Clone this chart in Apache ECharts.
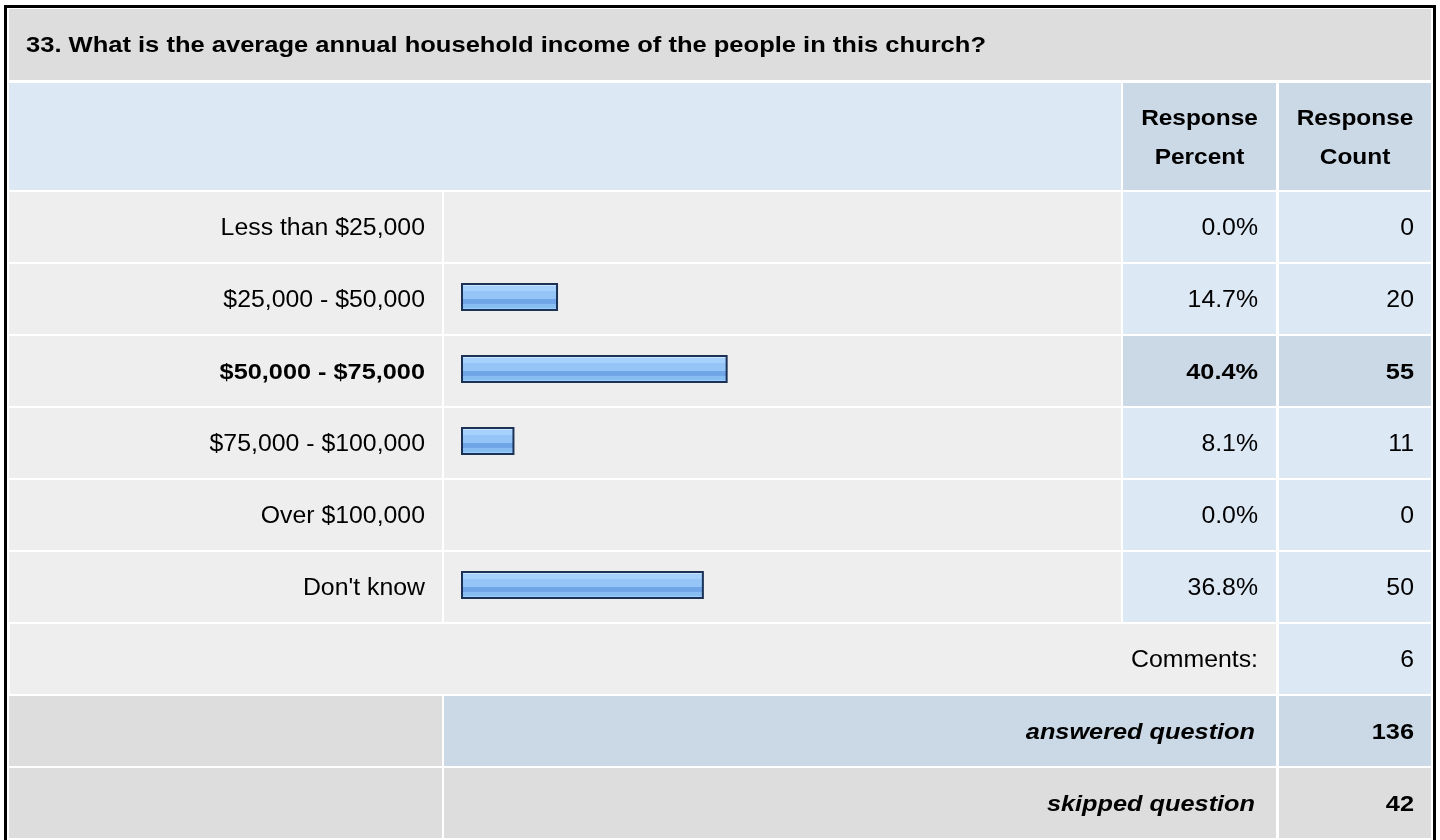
<!DOCTYPE html>
<html>
<head>
<meta charset="utf-8">
<script src="https://cdn.jsdelivr.net/npm/echarts@6/dist/echarts.min.js"></script>
<style>
  html, body { margin: 0; padding: 0; background: #ffffff; }
  #chart { width: 1440px; height: 840px; }
</style>
</head>
<body>
<div id="chart"></div>
<script>
// Survey question results
const question = '33. What is the average annual household income of the people in this church?';
const categories = ['Less than $25,000', '$25,000 - $50,000', '$50,000 - $75,000', '$75,000 - $100,000', 'Over $100,000', "Don't know"];
const percents = [0.0, 14.7, 40.4, 8.1, 0.0, 36.8];
const counts = [0, 20, 55, 11, 0, 50];
const headerLabels = ['Response\nPercent', 'Response\nCount'];
const commentsLabel = 'Comments:';
const commentsCount = 6;
const answeredLabel = 'answered question';
const answeredCount = 136;
const skippedLabel = 'skipped question';
const skippedCount = 42;

// Table layout
const FONT = '"Liberation Sans", Arial, Helvetica, sans-serif';
const COL = {
  label: [9, 442],
  bar: [444, 1121],
  pct: [1123, 1276],
  cnt: [1279, 1431]
};
const ROW_TOP = 192, ROW_PITCH = 72, ROW_H = 70;
const TEXT_DY = 2;

const C_TITLE = '#dddddd';
const C_HEAD = '#dde8f5';
const C_HEAD_DARK = '#cbd8e6';
const C_ROW = '#eeeeee';
const C_VAL = '#dde8f5';
const C_GREY = '#dddddd';

const maxIdx = counts.indexOf(Math.max(...counts));
const elements = [];

function cell(x0, x1, y, h, fill) {
  elements.push({ type: 'rect', z: 0, silent: true,
    shape: { x: x0, y: y, width: x1 - x0, height: h },
    style: { fill: fill } });
}
function text(x, y, str, o) {
  o = o || {};
  const bold = !!o.bold;
  elements.push({ type: 'text', z: 10, silent: true,
    x: x, y: y + TEXT_DY, scaleX: o.scaleX || (bold ? 1.15 : 1.08),
    style: {
      text: str, fill: '#000000',
      fontFamily: FONT, fontSize: o.size || (bold ? 22 : 23),
      fontWeight: bold ? 'bold' : 'normal',
      fontStyle: o.italic ? 'italic' : 'normal',
      align: o.align || 'right', textAlign: o.align || 'right',
      verticalAlign: 'middle', textVerticalAlign: 'middle',
      lineHeight: o.lineHeight || 26
    } });
}

// Outer frame
elements.push({ type: 'rect', z: 1, silent: true,
  shape: { x: 5.5, y: 6.5, width: 1429, height: 900 },
  style: { fill: null, stroke: '#000000', lineWidth: 3 } });

// Title row
cell(9, 1431, 9, 71, C_TITLE);
text(26, 44, question, { bold: true, align: 'left', scaleX: 1.16 });

// Header row
cell(9, 1121, 83, 107, C_HEAD);
cell(COL.pct[0], COL.pct[1], 83, 107, C_HEAD_DARK);
cell(COL.cnt[0], COL.cnt[1], 83, 107, C_HEAD_DARK);
text((COL.pct[0] + COL.pct[1]) / 2, 136, headerLabels[0], { bold: true, align: 'center', lineHeight: 39, scaleX: 1.11 });
text((COL.cnt[0] + COL.cnt[1]) / 2, 136, headerLabels[1], { bold: true, align: 'center', lineHeight: 39, scaleX: 1.11 });

// Answer rows
categories.forEach(function (name, i) {
  const y = ROW_TOP + i * ROW_PITCH;
  const cy = y + ROW_H / 2;
  const hi = i === maxIdx;
  cell(COL.label[0], COL.label[1], y, ROW_H, C_ROW);
  cell(COL.bar[0], COL.bar[1], y, ROW_H, C_ROW);
  cell(COL.pct[0], COL.pct[1], y, ROW_H, hi ? C_HEAD_DARK : C_VAL);
  cell(COL.cnt[0], COL.cnt[1], y, ROW_H, hi ? C_HEAD_DARK : C_VAL);
  text(425, cy, name, { bold: hi });
  text(1258, cy, percents[i].toFixed(1) + '%', { bold: hi });
  text(1414, cy, String(counts[i]), { bold: hi });
});

// Comments row
let y = ROW_TOP + categories.length * ROW_PITCH;
cell(10, COL.pct[1], y, ROW_H, C_ROW);
cell(COL.cnt[0], COL.cnt[1], y, ROW_H, C_VAL);
text(1258, y + ROW_H / 2, commentsLabel);
text(1414, y + ROW_H / 2, String(commentsCount));

// Answered / skipped rows
y += ROW_PITCH;
cell(COL.label[0], COL.label[1], y, ROW_H, C_GREY);
cell(COL.bar[0], COL.pct[1], y, ROW_H, C_HEAD_DARK);
cell(COL.cnt[0], COL.cnt[1], y, ROW_H, C_HEAD_DARK);
text(1255, y + ROW_H / 2, answeredLabel, { bold: true, italic: true });
text(1414, y + ROW_H / 2, String(answeredCount), { bold: true });

y += ROW_PITCH;
cell(COL.label[0], COL.label[1], y, ROW_H, C_GREY);
cell(COL.bar[0], COL.pct[1], y, ROW_H, C_GREY);
cell(COL.cnt[0], COL.cnt[1], y, ROW_H, C_GREY);
text(1255, y + ROW_H / 2, skippedLabel, { bold: true, italic: true });
text(1414, y + ROW_H / 2, String(skippedCount), { bold: true });

// Glossy striped bar fill
const barFill = new echarts.graphic.LinearGradient(0, 0, 0, 1, [
  { offset: 0.00, color: '#c8e4ff' },
  { offset: 0.10, color: '#c8e4ff' },
  { offset: 0.10, color: '#a6d1fc' },
  { offset: 0.28, color: '#a6d1fc' },
  { offset: 0.28, color: '#95c5f7' },
  { offset: 0.56, color: '#95c5f7' },
  { offset: 0.56, color: '#70a6e7' },
  { offset: 0.76, color: '#70a6e7' },
  { offset: 0.76, color: '#88bdf4' },
  { offset: 0.89, color: '#88bdf4' },
  { offset: 0.89, color: '#9ecdfb' },
  { offset: 1.00, color: '#9ecdfb' }
]);

const chart = echarts.init(document.getElementById('chart'), null, { renderer: 'canvas' });
chart.setOption({
  animation: false,
  backgroundColor: '#ffffff',
  grid: { left: 461, width: 660, top: 189, height: categories.length * ROW_PITCH, containLabel: false },
  xAxis: { type: 'value', min: 0, max: 100, show: false },
  yAxis: { type: 'category', data: categories, inverse: true, show: false },
  series: [{
    type: 'bar',
    z: 5,
    barWidth: 28,
    silent: true,
    data: percents.map(function (v) {
      return v > 0 ? v : { value: v, itemStyle: { borderWidth: 0, opacity: 0 } };
    }),
    itemStyle: { color: barFill, borderColor: '#1b3256', borderWidth: 2 }
  }],
  graphic: { elements: elements }
});
</script>
</body>
</html>
